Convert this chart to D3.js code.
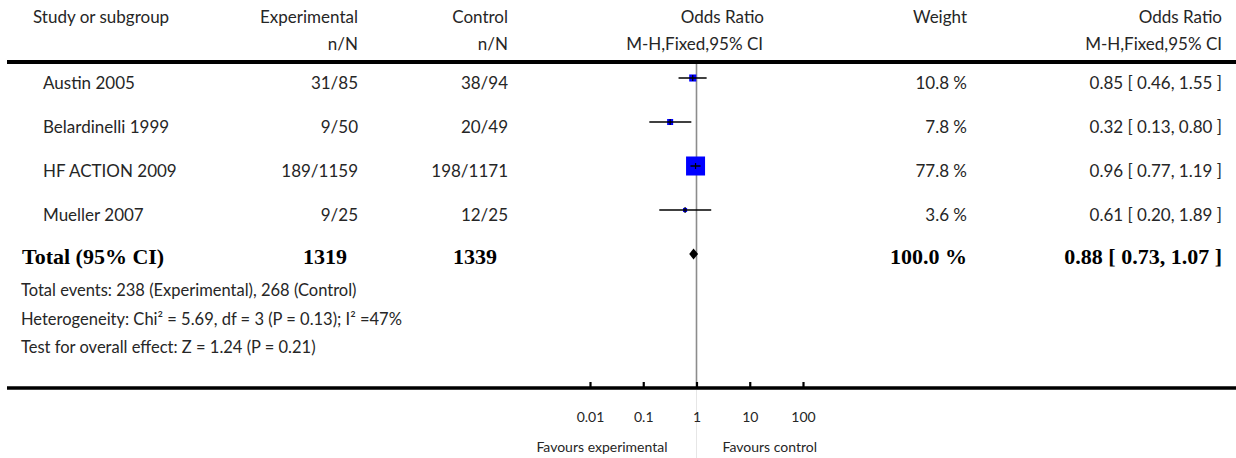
<!DOCTYPE html>
<html>
<head>
<meta charset="utf-8">
<script src="https://cdn.jsdelivr.net/npm/d3@7"></script>
<style>
  body { margin: 0; background: #fff; }
  svg text { font-family: Lato, "Open Sans", sans-serif; fill: #262626; }
  svg text.bold { font-family: "Liberation Serif", "DejaVu Serif", serif; font-weight: bold; fill: #000; }
</style>
</head>
<body>
<div id="chart"></div>
<script>
/////////////////////////////////////
///      DATA
/////////////////////////////////////
var studies = ["Austin 2005", "Belardinelli 1999", "HF ACTION 2009", "Mueller 2007"];
var expEvents = ["31/85", "9/50", "189/1159", "9/25"];
var ctrlEvents = ["38/94", "20/49", "198/1171", "12/25"];
var weights = [10.8, 7.8, 77.8, 3.6];
var oddsRatio = [0.85, 0.32, 0.96, 0.61];
var ciLow = [0.46, 0.13, 0.77, 0.20];
var ciHigh = [1.55, 0.80, 1.19, 1.89];

var totalLabel = "Total (95% CI)";
var totalExp = 1319, totalCtrl = 1339, totalWeight = 100.0;
var totalOR = 0.88, totalLow = 0.73, totalHigh = 1.07;

var footnotes = [
  "Total events: 238 (Experimental), 268 (Control)",
  "Heterogeneity: Chi\u00B2 = 5.69, df = 3 (P = 0.13); I\u00B2 =47%",
  "Test for overall effect: Z = 1.24 (P = 0.21)"
];
var axisTicks = [0.01, 0.1, 1, 10, 100];
var tickLabels = ["0.01", "0.1", "1", "10", "100"];

/////////////////////////////////////
///      LAYOUT
/////////////////////////////////////
var W = 1236, H = 458;
var svg = d3.select("#chart").append("svg")
  .attr("width", W)
  .attr("height", H);

var x = d3.scaleLog().domain([0.01, 100]).range([590, 803]);
var rowKeys = studies.concat(["__total"]);
var y = d3.scalePoint().domain(rowKeys).range([78, 254]);
var boxSide = d3.scaleSqrt().domain([0, 77.8]).range([0, 19]);

var col = { name: 43, exp: 358, ctrl: 508, orHead: 764, weight: 967, ci: 1222 };
var fmt2 = d3.format(".2f");
function ciText(o, l, h) { return fmt2(o) + " [ " + fmt2(l) + ", " + fmt2(h) + " ]"; }

// header
function headText(tx, ty, str, anchor) {
  svg.append("text").attr("x", tx).attr("y", ty)
    .attr("text-anchor", anchor).style("font-size", "17px").text(str);
}
headText(33, 23, "Study or subgroup", "start");
headText(col.exp, 23, "Experimental", "end");
headText(col.exp, 50, "n/N", "end");
headText(col.ctrl, 23, "Control", "end");
headText(col.ctrl, 50, "n/N", "end");
headText(col.orHead, 23, "Odds Ratio", "end");
headText(col.orHead - 1, 50, "M-H,Fixed,95% CI", "end");
headText(col.weight, 23, "Weight", "end");
headText(col.ci, 23, "Odds Ratio", "end");
headText(col.ci, 50, "M-H,Fixed,95% CI", "end");

// reference line at OR = 1
svg.append("line")
  .attr("x1", x(1)).attr("x2", x(1))
  .attr("y1", 62).attr("y2", 388)
  .attr("stroke", "#8c8c8c").attr("stroke-width", 1.6);
svg.append("line")
  .attr("x1", x(1)).attr("x2", x(1))
  .attr("y1", 390).attr("y2", H)
  .attr("stroke", "#e6e6e6").attr("stroke-width", 1);

// header rule
svg.append("line").attr("x1", 7).attr("x2", W).attr("y1", 62).attr("y2", 62)
  .attr("stroke", "#000").attr("stroke-width", 4);

// study rows
var rows = svg.selectAll("g.row").data(studies).enter().append("g")
  .attr("class", "row")
  .attr("transform", function(d) { return "translate(0," + y(d) + ")"; });

rows.append("text").attr("x", col.name).attr("y", 11)
  .style("font-size", "17px").text(function(d) { return d; });
rows.append("text").attr("x", col.exp).attr("y", 11).attr("text-anchor", "end")
  .style("font-size", "17px").text(function(d, i) { return expEvents[i]; });
rows.append("text").attr("x", col.ctrl).attr("y", 11).attr("text-anchor", "end")
  .style("font-size", "17px").text(function(d, i) { return ctrlEvents[i]; });
rows.append("text").attr("x", col.weight).attr("y", 11).attr("text-anchor", "end")
  .style("font-size", "17px").text(function(d, i) { return weights[i].toFixed(1) + " %"; });
rows.append("text").attr("x", col.ci).attr("y", 11).attr("text-anchor", "end")
  .style("font-size", "17px").text(function(d, i) { return ciText(oddsRatio[i], ciLow[i], ciHigh[i]); });

// boxes
rows.append("rect")
  .attr("x", function(d, i) { return x(oddsRatio[i]) - boxSide(weights[i]) / 2; })
  .attr("y", function(d, i) { return -boxSide(weights[i]) / 2; })
  .attr("width", function(d, i) { return boxSide(weights[i]); })
  .attr("height", function(d, i) { return boxSide(weights[i]); })
  .attr("fill", "#0000ff");
// CI whiskers
rows.append("line")
  .attr("x1", function(d, i) { return x(ciLow[i]); })
  .attr("x2", function(d, i) { return x(ciHigh[i]); })
  .attr("y1", 0).attr("y2", 0)
  .attr("stroke", "#000").attr("stroke-width", 1.5);
rows.append("line")
  .attr("x1", function(d, i) { return x(oddsRatio[i]); })
  .attr("x2", function(d, i) { return x(oddsRatio[i]); })
  .attr("y1", -3).attr("y2", 3)
  .attr("stroke", "#000").attr("stroke-width", 1.2);

// total row
var ty = y("__total");
function boldText(tx, str, anchor) {
  svg.append("text").attr("class", "bold").attr("x", tx).attr("y", ty + 10)
    .attr("text-anchor", anchor).style("font-size", "22px").text(str);
}
boldText(22, totalLabel, "start");
boldText(col.exp - 11, totalExp, "end");
boldText(col.ctrl - 11, totalCtrl, "end");
boldText(col.weight, totalWeight.toFixed(1) + " %", "end");
boldText(col.ci, ciText(totalOR, totalLow, totalHigh), "end");

svg.append("path")
  .attr("d", "M" + x(totalLow) + "," + ty +
             "L" + x(totalOR) + "," + (ty - 5.5) +
             "L" + x(totalHigh) + "," + ty +
             "L" + x(totalOR) + "," + (ty + 5.5) + "Z")
  .attr("fill", "#000");

// footnotes
svg.selectAll("text.foot").data(footnotes).enter().append("text")
  .attr("class", "foot")
  .attr("x", 21)
  .attr("y", function(d, i) { return 296 + i * 28.5; })
  .style("font-size", "16.5px")
  .text(function(d) { return d; });

// axis
svg.append("line").attr("x1", 7).attr("x2", W).attr("y1", 388).attr("y2", 388)
  .attr("stroke", "#000").attr("stroke-width", 3.5);

var axis = d3.axisBottom(x)
  .tickValues(axisTicks)
  .tickFormat(function(d, i) { return tickLabels[i]; })
  .tickSizeInner(-6)
  .tickSizeOuter(0);
var gAxis = svg.append("g").attr("transform", "translate(0,388)").call(axis);
gAxis.select(".domain").remove();
gAxis.selectAll(".tick line").attr("stroke", "#000").attr("stroke-width", 2.2);
gAxis.selectAll(".tick text")
  .attr("y", 34).attr("dy", null)
  .style("font-family", "Lato, sans-serif")
  .style("font-size", "14px")
  .attr("fill", "#262626");

svg.append("text").attr("x", x(1) - 29).attr("y", 452).attr("text-anchor", "end")
  .style("font-size", "14px").text("Favours experimental");
svg.append("text").attr("x", x(1) + 26).attr("y", 452).attr("text-anchor", "start")
  .style("font-size", "14px").text("Favours control");
</script>
</body>
</html>
